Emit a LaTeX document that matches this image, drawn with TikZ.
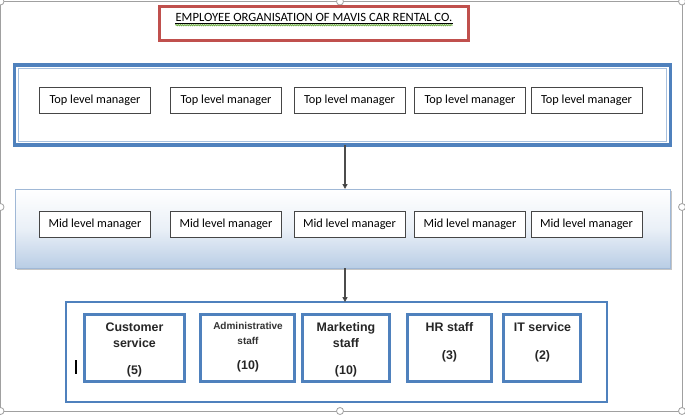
\documentclass[tikz,border=0pt]{standalone}
\usepackage{fontspec}
\setmainfont{Carlito}
\newfontfamily\arialf{Liberation Sans}
\usetikzlibrary{arrows.meta,calc,shadows,decorations.pathmorphing}
\definecolor{bluebd}{RGB}{79,129,189}
\definecolor{bluelt}{RGB}{167,192,222}
\definecolor{midbl}{RGB}{185,205,229}
\definecolor{midbd}{RGB}{160,184,214}
\definecolor{redbd}{RGB}{192,80,77}
\definecolor{framegray}{RGB}{160,160,160}
\definecolor{boxbd}{RGB}{70,70,70}
\definecolor{wavy}{RGB}{112,173,71}
\begin{document}
\begin{tikzpicture}[x=1pt,y=-1pt,
  mgr/.style={draw=boxbd,line width=0.8pt,fill=white,minimum width=111pt,minimum height=26pt,inner sep=0pt,outer sep=0pt,font=\fontsize{12.3}{14}\selectfont},
  staffbox/.style={draw=bluebd,line width=3pt,fill=white,minimum height=67pt,inner sep=0pt,outer sep=0pt},
  stafftxt/.style={font=\arialf\bfseries\fontsize{12.4}{14}\selectfont,text=black!85,inner sep=0pt,anchor=base},
  smalltxt/.style={font=\arialf\bfseries\fontsize{10}{12}\selectfont,text=black!80,inner sep=0pt,anchor=base},
  arr/.style={draw=black!70,line width=1.2pt,-{Triangle[length=5pt,width=5pt,fill=black]}},
  handle/.style={draw=framegray,fill=white,line width=0.8pt,circle,minimum size=7pt,inner sep=0pt}
]
\useasboundingbox (0,0) rectangle (685,415);
% canvas frame
\draw[framegray,line width=1pt] (0.5,1.5) rectangle (682,411);
\foreach \n/\p in {h1/{(0.5,1.5)},h2/{(340,1.5)},h3/{(682,1.5)},h4/{(0.5,207)},h5/{(682,207)},h6/{(0.5,411)},h7/{(340,411)},h8/{(682,411)}}
  \node[handle] (\n) at \p {};
% title
\node[draw=redbd,line width=3pt,minimum width=309pt,minimum height=34pt,inner sep=0pt,outer sep=0pt] (titlebox) at (314,23.5) {};
\node[inner sep=0pt,font=\fontsize{12.6}{14}\selectfont] (title) at (314,17.5) {EMPLOYEE ORGANISATION OF MAVIS CAR RENTAL CO.};
\draw[line width=0.6pt] ($(title.base west)+(0,1.8)$) -- ($(title.base east)+(0,1.8)$);
\draw[wavy,line width=0.9pt,decorate,decoration={snake,amplitude=0.6pt,segment length=2.2pt}] ($(title.base west)+(0,3.6)$) -- ($(title.base east)+(0,3.6)$);
% top container
\node[draw=bluebd,fill=white,line width=3.3pt,minimum width=656pt,minimum height=80pt,inner sep=0pt,outer sep=0pt] (top) at (342.5,105) {};
\draw[bluelt,line width=1pt] ($(top.north west)+(3.8,3.8)$) rectangle ($(top.south east)+(-3.8,-3.8)$);
% mid container
\node[draw=midbd,line width=0.8pt,minimum width=655pt,minimum height=79pt,inner sep=0pt,outer sep=0pt,
  top color=white,bottom color=midbl,middle color=white!70!midbl,
  drop shadow={shadow xshift=1.5pt,shadow yshift=-1.8pt,fill=black!45,opacity=0.5}] (mid) at (343,228.5) {};
% manager boxes
\foreach \i/\x in {1/95,2/226,3/349.5,4/470,5/586.5}{
  \node[mgr] (t\i) at (\x,100.5) {Top level manager};
  \node[mgr] (m\i) at (\x,224) {Mid level manager};
}
% bottom container
\node[draw=bluebd,line width=2.2pt,minimum width=540.8pt,minimum height=99.8pt,inner sep=0pt,outer sep=0pt] (bot) at (336.5,352) {};
% staff boxes
\node[staffbox,minimum width=100pt] (cs) at (134.5,348) {};
\node[staffbox,minimum width=94pt] (adm) at (247.5,348) {};
\node[staffbox,minimum width=87pt] (mkt) at (346,348) {};
\node[staffbox,minimum width=84pt] (hr) at (449.5,348) {};
\node[staffbox,minimum width=77pt] (it) at (542,348) {};
% staff texts
\node[stafftxt] (cs1) at (134.5,331) {Customer};
\node[stafftxt] (cs2) at (134.5,347) {service};
\node[stafftxt] (cs3) at (134.5,374) {(5)};
\node[smalltxt] (adm1) at (248,329) {Administrative};
\node[smalltxt] (adm2) at (248,344.5) {staff};
\node[stafftxt] (adm3) at (248,369.5) {(10)};
\node[stafftxt] (mkt1) at (346,331) {Marketing};
\node[stafftxt] (mkt2) at (346,347) {staff};
\node[stafftxt] (mkt3) at (346,374) {(10)};
\node[stafftxt] (hr1) at (449.5,331) {HR staff};
\node[stafftxt] (hr2) at (449.5,359) {(3)};
\node[stafftxt] (it1) at (542.5,331) {IT service};
\node[stafftxt] (it2) at (542.5,359) {(2)};
% cursor
\draw[line width=1.5pt] (76,360) -- (76,374);
% arrows
\coordinate (ax) at (345,0);
\draw[arr] (top.south -| ax) -- (mid.north -| ax);
\draw[arr] (mid.south -| ax) -- (bot.north -| ax);
\end{tikzpicture}
\end{document}
